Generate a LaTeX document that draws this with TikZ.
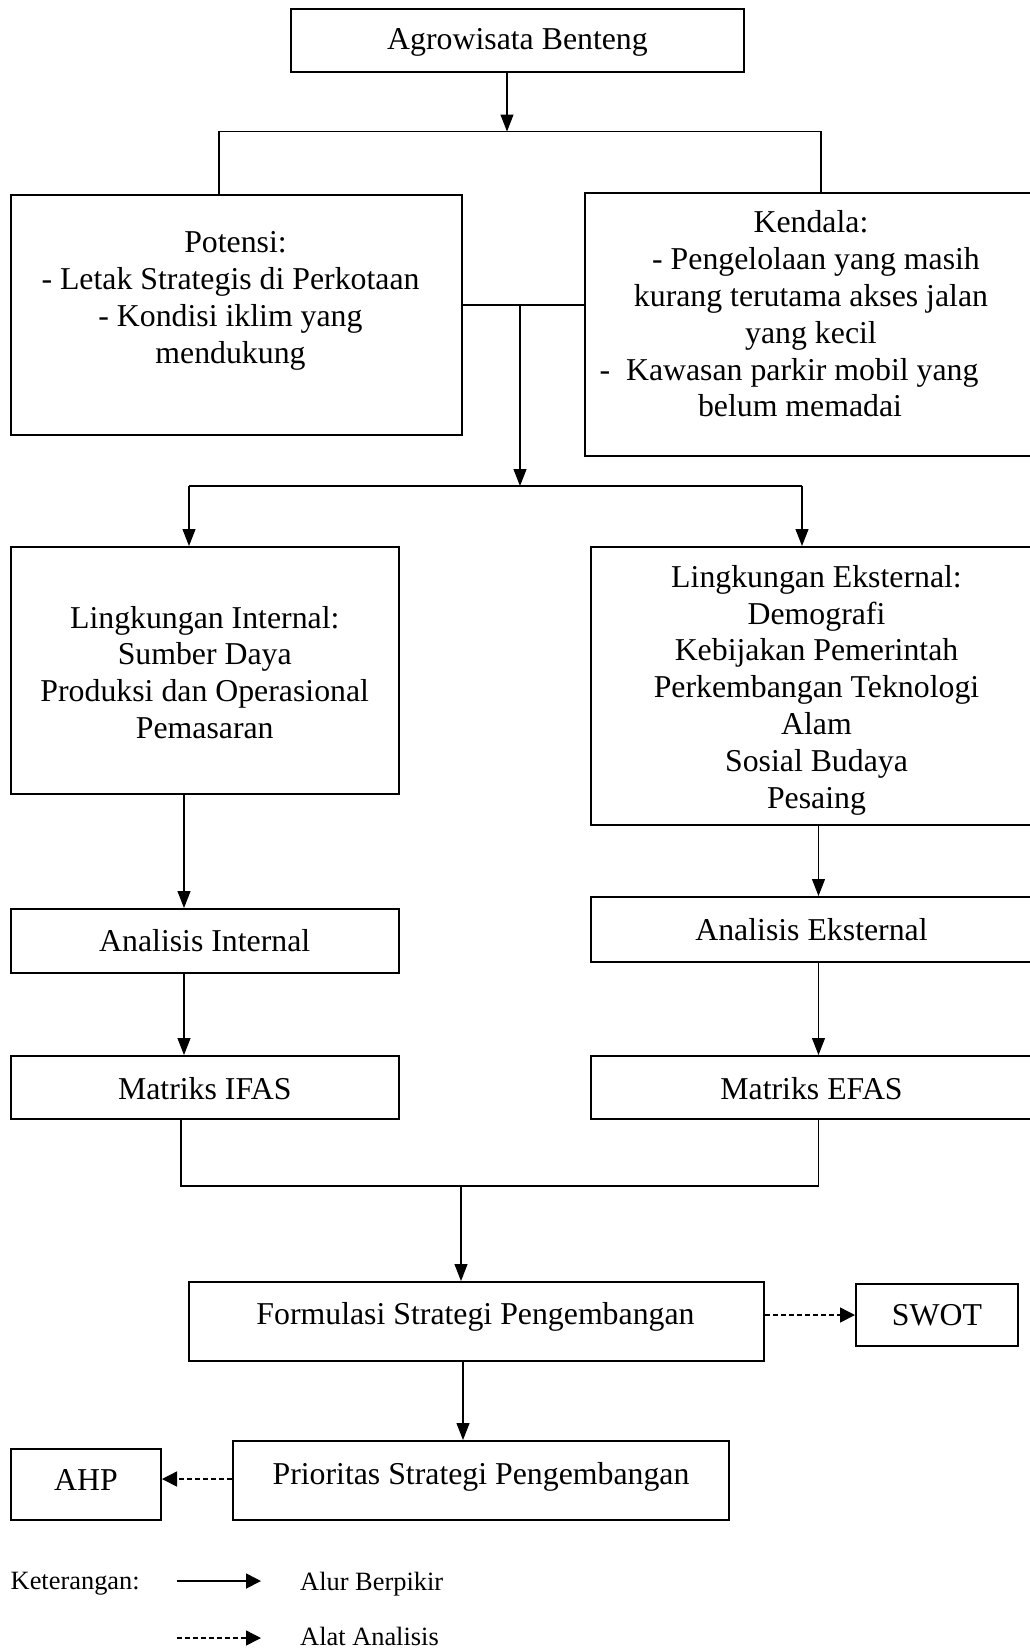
\documentclass[tikz,border=0pt]{standalone}
\usepackage{fontspec}
\setmainfont{Liberation Serif}
\usetikzlibrary{arrows.meta}
\newcommand\bigfont{\fontsize{31.8}{36.8}\selectfont}
\newcommand\smallfont{\fontsize{26.4}{30}\selectfont}
\newcommand\gap[1]{\rule{#1}{0pt}}
\begin{document}
\begin{tikzpicture}[x=1pt,y=-1pt,
  box/.style={draw, line width=2pt, inner sep=0pt},
  txt/.style={inner sep=0pt, align=center, font=\bigfont},
  conn/.style={line width=1.1pt},
  arr/.style={line width=1.1pt, -{Triangle[length=17pt,width=13pt]}},
  darr/.style={line width=1.5pt, dash pattern=on 5pt off 3pt, -{Triangle[length=15pt,width=15pt]}},
  larr/.style={line width=1.8pt, -{Triangle[length=15pt,width=15pt]}},
  leg/.style={inner sep=0pt, anchor=west, font=\smallfont}]
\useasboundingbox (0,0) rectangle (1030,1649);
% boxes
\node[box, minimum width=453pt, minimum height=63pt] (agro) at (517.5,40) {};
\node[txt] (agrotxt) at (517.5,42) {Agrowisata Benteng};
\node[box, minimum width=451.5pt, minimum height=240pt] (pot) at (236.25,314.5) {};
\node[txt] (pottxt) at (230.5,301) {\gap{10pt}Potensi:\\- Letak Strategis di Perkotaan\\- Kondisi iklim yang\\mendukung};
\node[box, minimum width=447pt, minimum height=263pt] (ken) at (808.5,324) {};
\node[txt] (kentxt) at (811,314) {Kendala:\\\gap{10pt}- Pengelolaan yang masih\\kurang terutama akses jalan\\yang kecil\\-\ \ Kawasan parkir mobil yang\gap{44pt}\\belum memadai\gap{22pt}};
\node[box, minimum width=388.5pt, minimum height=247pt] (int) at (204.75,670.5) {};
\node[txt] (inttxt) at (204.75,672.5) {Lingkungan Internal:\\Sumber Daya\\Produksi dan Operasional\\Pemasaran};
\node[box, minimum width=441pt, minimum height=278pt] (ext) at (811.5,686) {};
\node[txt] (exttxt) at (816.5,690) {Lingkungan Eksternal:\\Demografi\\Kebijakan Pemerintah\\Perkembangan Teknologi\\Alam\\Sosial Budaya\\Pesaing};
\node[box, minimum width=388.5pt, minimum height=64pt] (anint) at (204.75,941) {};
\node[txt] (aninttxt) at (204.75,941) {Analisis Internal};
\node[box, minimum width=441pt, minimum height=65pt] (anext) at (811.5,929.5) {};
\node[txt] (anexttxt) at (811.5,929.5) {Analisis Eksternal};
\node[box, minimum width=388.5pt, minimum height=63pt] (ifas) at (204.75,1087.5) {};
\node[txt] (ifastxt) at (204.75,1088.5) {Matriks IFAS};
\node[box, minimum width=441pt, minimum height=63pt] (efas) at (811.5,1087.5) {};
\node[txt] (efastxt) at (811.5,1088.5) {Matriks EFAS};
\node[box, minimum width=575pt, minimum height=79pt] (form) at (476.5,1321.5) {};
\node[txt] (formtxt) at (475.5,1317) {Formulasi Strategi Pengembangan};
\node[box, minimum width=162pt, minimum height=62.5pt] (swot) at (937,1314.75) {};
\node[txt] (swottxt) at (937,1315.5) {SWOT};
\node[box, minimum width=496.5pt, minimum height=79pt] (prio) at (480.75,1480.5) {};
\node[txt] (priotxt) at (481,1477) {Prioritas Strategi Pengembangan};
\node[box, minimum width=150.5pt, minimum height=71pt] (ahp) at (85.75,1484.5) {};
\node[txt] (ahptxt) at (86,1480) {AHP};
% connectors
\coordinate (a1) at (507,131.5);
\coordinate (a1L) at (219,131.5);
\coordinate (a1R) at (821,131.5);
\draw[arr] (agro.south -| a1) -- (a1);
\draw[conn] (pot.north -| a1L) -- (a1L) -- (a1R) -- (ken.north -| a1R);
\coordinate (m1) at (520,305);
\coordinate (m2) at (520,486);
\coordinate (m2L) at (189,486);
\coordinate (m2R) at (802,486);
\draw[conn] (pot.east |- m1) -- (ken.west |- m1);
\draw[arr] (m1) -- (m2);
\draw[conn] (m2L) -- (m2R);
\draw[arr] (m2L) -- (int.north -| m2L);
\draw[arr] (m2R) -- (ext.north -| m2R);
\coordinate (cI) at (184,0);
\coordinate (cE) at (818.5,0);
\draw[arr] (int.south -| cI) -- (anint.north -| cI);
\draw[arr] (anint.south -| cI) -- (ifas.north -| cI);
\draw[arr] (ext.south -| cE) -- (anext.north -| cE);
\draw[arr] (anext.south -| cE) -- (efas.north -| cE);
\coordinate (bL) at (181,1186);
\coordinate (bR) at (818.5,1186);
\coordinate (bM) at (461,1186);
\draw[conn] (ifas.south -| bL) -- (bL) -- (bR) -- (efas.south -| bR);
\draw[arr] (bM) -- (form.north -| bM);
\coordinate (fM) at (463,0);
\draw[arr] (form.south -| fM) -- (prio.north -| fM);
\coordinate (sY) at (0,1315);
\draw[darr] (form.east |- sY) -- (swot.west |- sY);
\coordinate (aY) at (0,1479);
\draw[darr] (prio.west |- aY) -- (ahp.east |- aY);
% legend
\node[leg] (ket) at (10.5,1584) {Keterangan:};
\coordinate (l1s) at (177,1581);
\coordinate (l1e) at (261,1581);
\draw[larr] (l1s) -- (l1e);
\node[leg] (alur) at (300,1584) {Alur Berpikir};
\coordinate (l2s) at (177,1638);
\coordinate (l2e) at (261,1638);
\draw[darr] (l2s) -- (l2e);
\node[leg] (alat) at (300,1636) {Alat Analisis};
\end{tikzpicture}
\end{document}
